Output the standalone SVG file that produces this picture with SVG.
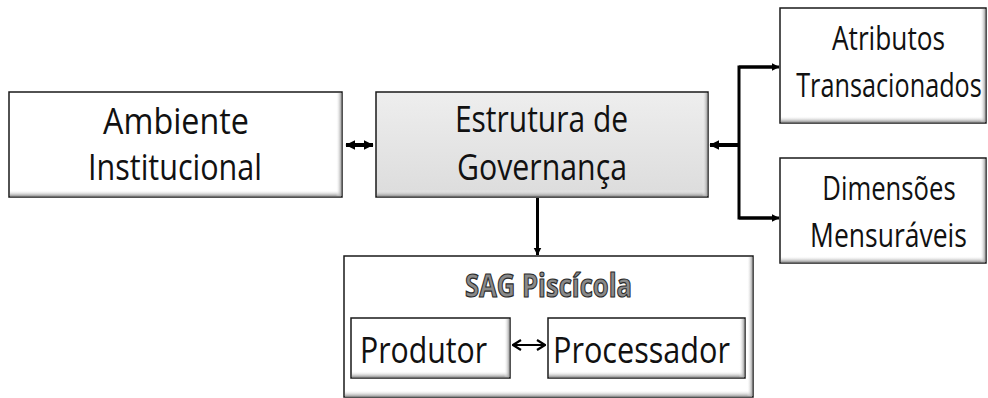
<svg xmlns="http://www.w3.org/2000/svg" width="988" height="398" viewBox="0 0 988 398">
<defs>
<style>
.box{stroke:#1a1a1a;stroke-width:1.5}
.white{fill:#ffffff}
.gray{fill:url(#gfill)}
.bb{fill:url(#bevB)}
.br{fill:url(#bevR)}
.t{font-family:"Open Sans","Noto Sans",sans-serif;font-size:37px;fill:#111;text-anchor:middle}
.ts{font-family:"Open Sans","Noto Sans",sans-serif;font-size:32px;fill:#111;text-anchor:middle}
.title{font-family:"Open Sans","Noto Sans",sans-serif;font-size:32px;font-weight:bold;fill:#8a8a8a;stroke:#2a2a2a;stroke-width:1.2px;text-anchor:middle}
.thick{stroke:#000;stroke-width:4;fill:none}
.mid{stroke:#000;stroke-width:3;fill:none}
.thin{stroke:#000;stroke-width:2;fill:none}
</style>
<linearGradient id="gfill" x1="0" y1="0" x2="0" y2="1">
<stop offset="0" stop-color="#eeeeee"/>
<stop offset="1" stop-color="#dcdcdc"/>
</linearGradient>
<linearGradient id="bevB" x1="0" y1="0" x2="0" y2="1">
<stop offset="0" stop-color="#ffffff" stop-opacity="0"/>
<stop offset="1" stop-color="#8a8a8a"/>
</linearGradient>
<linearGradient id="bevR" x1="0" y1="0" x2="1" y2="0">
<stop offset="0" stop-color="#ffffff" stop-opacity="0"/>
<stop offset="1" stop-color="#9a9a9a"/>
</linearGradient>
<marker id="ah" markerUnits="userSpaceOnUse" viewBox="0 0 8 8" refX="7.5" refY="4" markerWidth="10" markerHeight="10" orient="auto-start-reverse">
<path d="M0,0 L8,4 L0,8 z" fill="#000"/>
</marker>
<marker id="ahs" markerUnits="userSpaceOnUse" viewBox="0 0 8 8" refX="7.5" refY="4" markerWidth="8" markerHeight="9" orient="auto-start-reverse">
<path d="M0,0 L8,4 L0,8 z" fill="#000"/>
</marker>
<marker id="chev" markerUnits="userSpaceOnUse" viewBox="0 0 10 12" refX="9" refY="6" markerWidth="10" markerHeight="12" orient="auto-start-reverse">
<path d="M1,1 L9,6 L1,11" fill="none" stroke="#000" stroke-width="2.2"/>
</marker>
</defs>
<rect width="988" height="398" fill="#ffffff"/>

<g id="ambiente">
<rect class="box white" x="9" y="92" width="333" height="105"/>
<rect class="bb" x="10" y="190" width="331" height="6.5"/>
<rect class="br" x="336" y="93" width="5.5" height="103"/>
<text class="t" transform="translate(176 134) scale(0.78 1)" textLength="187" lengthAdjust="spacingAndGlyphs">Ambiente</text>
<text class="t" transform="translate(175 180) scale(0.78 1)" textLength="223" lengthAdjust="spacingAndGlyphs">Institucional</text>
</g>

<g id="estrutura">
<rect class="box gray" x="376" y="92" width="332" height="105"/>
<rect class="bb" x="377" y="190" width="330" height="6.5"/>
<rect class="br" x="702" y="93" width="5.5" height="103"/>
<text class="t" transform="translate(541.5 132) scale(0.78 1)" textLength="222" lengthAdjust="spacingAndGlyphs">Estrutura de</text>
<text class="t" transform="translate(542 180) scale(0.78 1)" textLength="218" lengthAdjust="spacingAndGlyphs">Governança</text>
</g>

<g id="atributos">
<rect class="box white" x="780" y="8" width="206" height="115"/>
<rect class="bb" x="781" y="116" width="204" height="6.5"/>
<rect class="br" x="980" y="9" width="5.5" height="113"/>
<text class="ts" transform="translate(888.5 50) scale(0.78 1)" textLength="145" lengthAdjust="spacingAndGlyphs">Atributos</text>
<text class="ts" transform="translate(889 97) scale(0.78 1)" textLength="238" lengthAdjust="spacingAndGlyphs">Transacionados</text>
</g>

<g id="dimensoes">
<rect class="box white" x="780" y="158" width="206" height="105"/>
<rect class="bb" x="781" y="256" width="204" height="6.5"/>
<rect class="br" x="980" y="159" width="5.5" height="103"/>
<text class="ts" transform="translate(889 200) scale(0.78 1)" textLength="171" lengthAdjust="spacingAndGlyphs">Dimensões</text>
<text class="ts" transform="translate(888.5 247) scale(0.78 1)" textLength="201" lengthAdjust="spacingAndGlyphs">Mensuráveis</text>
</g>

<g id="sag">
<rect class="box white" x="344" y="256" width="409" height="141"/>
<rect class="bb" x="345" y="390" width="407" height="7"/>
<rect class="br" x="747" y="257" width="5.5" height="139"/>
<text class="title" transform="translate(548.5 297) scale(0.78 1)" textLength="214" lengthAdjust="spacingAndGlyphs">SAG Piscícola</text>
</g>

<g id="produtor">
<rect class="box white" x="351" y="318" width="159" height="60"/>
<rect class="bb" x="352" y="371" width="157" height="6.5"/>
<rect class="br" x="504" y="319" width="5.5" height="58"/>
<text class="t" transform="translate(423.5 363) scale(0.78 1)" textLength="163" lengthAdjust="spacingAndGlyphs">Produtor</text>
</g>

<g id="processador">
<rect class="box white" x="548" y="318" width="197" height="60"/>
<rect class="bb" x="549" y="371" width="195" height="6.5"/>
<rect class="br" x="739" y="319" width="5.5" height="58"/>
<text class="t" transform="translate(641.5 363) scale(0.78 1)" textLength="227" lengthAdjust="spacingAndGlyphs">Processador</text>
</g>

<g id="connectors">
<line class="thick" x1="346" y1="145" x2="373" y2="145" marker-start="url(#ah)" marker-end="url(#ah)"/>
<line class="thick" x1="740" y1="145" x2="710" y2="145" marker-end="url(#ah)"/>
<polyline class="mid" points="772,67 739,67 739,218 772,218"/>
<line class="mid" x1="739" y1="67" x2="779" y2="67" marker-end="url(#ahs)"/>
<line class="mid" x1="739" y1="218" x2="779" y2="218" marker-end="url(#ahs)"/>
<line class="mid" x1="537.5" y1="198" x2="537.5" y2="255" marker-end="url(#ahs)"/>
<line class="thin" x1="513" y1="345" x2="545" y2="345" marker-start="url(#chev)" marker-end="url(#chev)"/>
</g>
</svg>
